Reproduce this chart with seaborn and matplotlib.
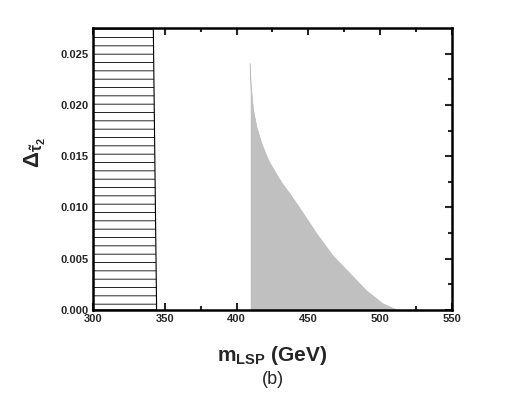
import numpy as np
import pandas as pd
import matplotlib
matplotlib.use('Agg')
import matplotlib.pyplot as plt
import seaborn as sns

# excluded (hatched) strip: left edge of the plot up to the boundary
excl_y = [0.0, 0.0275]
excl_x = [344.3, 342.0]

# allowed (gray) region, upper boundary
m_lsp = [409.5, 409.8, 410.5, 411.6, 414.0, 417.5, 422.1, 427.9, 431.4, 436.7,
         446.0, 455.4, 466.9, 478.6, 490.2, 501.8, 511.6]
delta = [0.0240, 0.0224, 0.0211, 0.0195, 0.0178, 0.0162, 0.0146, 0.0132, 0.0124, 0.0114,
         0.0095, 0.0075, 0.0053, 0.0036, 0.0019, 0.0006, 0.0]

xticks = [300, 350, 400, 450, 500, 550]
yticks = [0.000, 0.005, 0.010, 0.015, 0.020, 0.025]

df = pd.DataFrame({'m': m_lsp, 'd': delta})

sns.set_style('ticks')
plt.rcParams['font.family'] = ['Liberation Sans', 'DejaVu Sans']
plt.rcParams['mathtext.fontset'] = 'custom'
plt.rcParams['mathtext.rm'] = 'Liberation Sans:bold'
plt.rcParams['mathtext.it'] = 'Liberation Sans:bold'
plt.rcParams['mathtext.bf'] = 'Liberation Sans:bold'
plt.rcParams['hatch.linewidth'] = 0.6

fig = plt.figure(figsize=(5.26, 3.93), dpi=100)
ax = fig.add_axes([0.1768, 0.2112, 0.6825, 0.7176])

# hatched region
ax.fill_betweenx(excl_y, 300, excl_x, facecolor='white', edgecolor='black',
                 hatch='--', linewidth=0.8)

# gray region
ax.fill_between(df['m'], 0, df['d'], color='#c0c0c0', linewidth=0)
sns.lineplot(data=df, x='m', y='d', ax=ax, color='#c0c0c0', linewidth=0.8)

ax.set_xlim(300, 550)
ax.set_ylim(0, 0.0275)
ax.set_xticks(xticks)
ax.set_yticks(yticks)
ax.set_xticks(np.arange(325, 550, 50), minor=True)
ax.set_yticks([0.0025, 0.0075, 0.0125, 0.0175, 0.0225], minor=True)
ax.set_yticklabels([f'{v:.3f}' for v in yticks])

ax.tick_params(which='both', direction='in', top=True, right=True, width=1.5)
ax.tick_params(which='major', length=5, labelsize=8, pad=3)
ax.tick_params(which='minor', length=3)
for lab in ax.get_xticklabels() + ax.get_yticklabels():
    lab.set_fontweight('bold')
for sp in ax.spines.values():
    sp.set_linewidth(1.8)
    sp.set_color('black')

ax.set_xlabel(r'$\mathregular{m_{LSP}}$ (GeV)', fontsize=15, fontweight='bold', labelpad=14)
ax.set_ylabel(r'$\Delta_{\tilde{\tau}_2}$', fontsize=16, labelpad=4)
ax.yaxis.set_label_coords(-0.125, 0.56)
fig.text(0.518, 0.012, '(b)', ha='center', va='bottom', fontsize=13)

fig.savefig('out.png', dpi=100)
